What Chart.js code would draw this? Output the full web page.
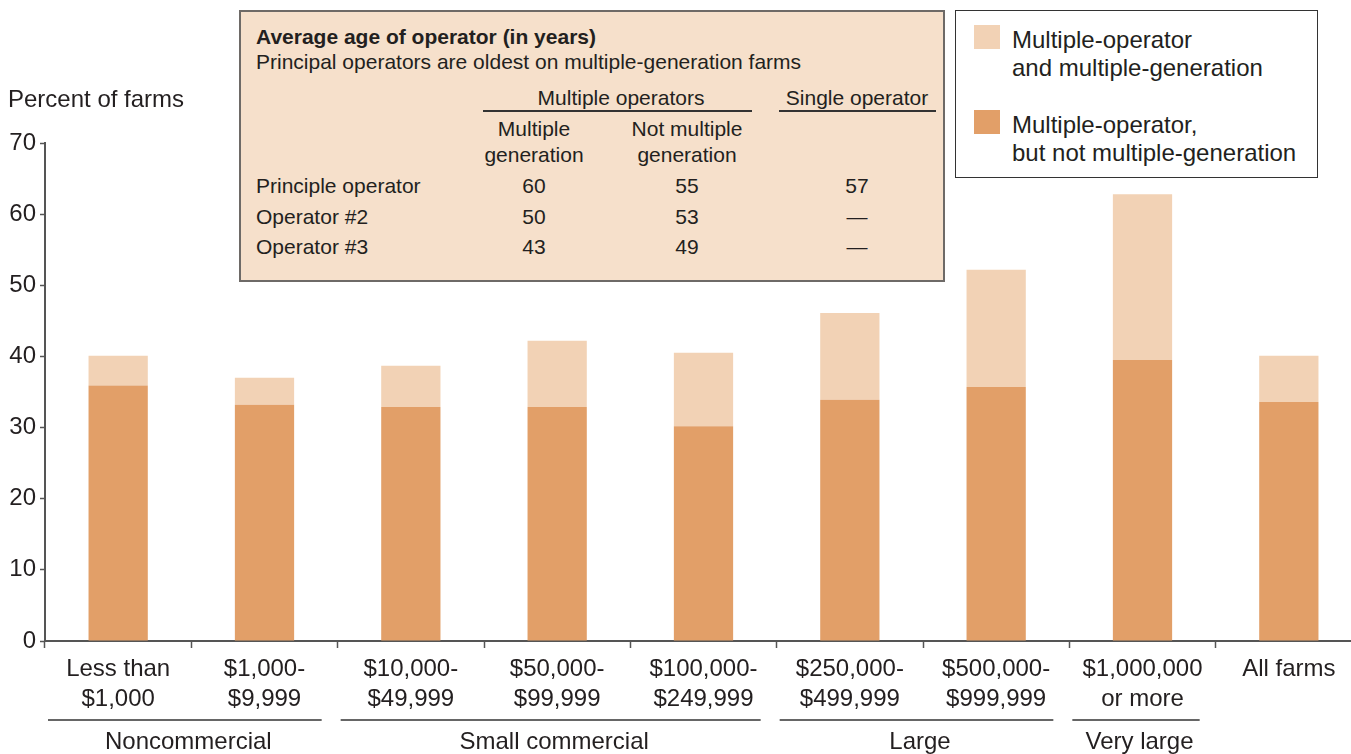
<!DOCTYPE html>
<html>
<head>
<meta charset="utf-8">
<script src="https://cdn.jsdelivr.net/npm/chart.js@4.4.1/dist/chart.umd.min.js"></script>
<style>
  html, body { margin: 0; padding: 0; background: #fff; overflow: hidden; }
  body { width: 1351px; height: 754px; position: relative; font-family: "Liberation Sans", Arial, Helvetica, sans-serif; color: #231f20; }
  #chart { position: absolute; left: 0; top: 0; }
  .t { position: absolute; white-space: nowrap; }
  .c { transform: translateX(-50%); }
  #ageBox { position: absolute; left: 239px; top: 10px; width: 702px; height: 268px; background: #f6e0cb; border: 2px solid #6e6a67; }
  #legendBox { position: absolute; left: 955px; top: 10px; width: 361px; height: 166px; background: #fff; border: 1.5px solid #333; }
  .rule { position: absolute; height: 1.5px; background: #333; }
  .swatch { position: absolute; width: 26px; height: 24px; }
</style>
</head>
<body>
<canvas id="chart" width="1362" height="754"></canvas>
<div id="ageBox"></div>
<div id="legendBox"></div>
<div id="overlay"></div>

<script>
'use strict';

// Data
const categories = [
  ['Less than', '$1,000'],
  ['$1,000-', '$9,999'],
  ['$10,000-', '$49,999'],
  ['$50,000-', '$99,999'],
  ['$100,000-', '$249,999'],
  ['$250,000-', '$499,999'],
  ['$500,000-', '$999,999'],
  ['$1,000,000', 'or more'],
  'All farms'
];
const notMultiGen = [35.9, 33.2, 32.9, 32.9, 30.2, 33.9, 35.7, 39.5, 33.6];
const multiGen = [4.2, 3.8, 5.8, 9.3, 10.3, 12.2, 16.5, 23.3, 6.5];
const yTicks = [0, 10, 20, 30, 40, 50, 60, 70];

const groupNames = ['Noncommercial', 'Small commercial', 'Large', 'Very large'];
const groupFirst = [0, 2, 5, 7];
const groupLast = [1, 4, 6, 7];

// Inset table: average age of operator
const ageRowLabels = ['Principle operator', 'Operator #2', 'Operator #3'];
const ageMultiGen = ['60', '50', '43'];
const ageNotMultiGen = ['55', '53', '49'];
const ageSingle = ['57', '\u2014', '\u2014'];

const seriesNames = ['Multiple-operator, but not multiple-generation', 'Multiple-operator and multiple-generation'];
const legendLines = [['Multiple-operator', 'and multiple-generation'], ['Multiple-operator,', 'but not multiple-generation']];

// Colours
const darkColor = '#e29f68',
  lightColor = '#f2d2b5',
  axisColor = '#555',
  textColor = '#231f20';

const FONT = '"Liberation Sans", Arial, Helvetica, sans-serif';

// Group labels under the category axis
const groupPlugin = {
  id: 'groups',
  afterDraw(chart) {
    const ctx = chart.ctx;
    const x = chart.scales.x;
    const step = x.getPixelForValue(1) - x.getPixelForValue(0);
    ctx.save();
    ctx.strokeStyle = '#333';
    ctx.lineWidth = 1.5;
    ctx.fillStyle = textColor;
    ctx.font = '24px ' + FONT;
    ctx.textAlign = 'center';
    ctx.textBaseline = 'middle';
    groupNames.forEach((name, i) => {
      const left = x.getPixelForValue(groupFirst[i]) - step / 2 + 3;
      const right = x.getPixelForValue(groupLast[i]) + step / 2 - 16;
      ctx.beginPath();
      ctx.moveTo(left, 720);
      ctx.lineTo(right, 720);
      ctx.stroke();
      ctx.fillText(name, (x.getPixelForValue(groupFirst[i]) + x.getPixelForValue(groupLast[i])) / 2 - 3, 742);
    });
    // axis title
    ctx.textAlign = 'left';
    ctx.fillText('Percent of farms', 8, 100);
    ctx.restore();
  }
};

new Chart(document.getElementById('chart'), {
  type: 'bar',
  data: {
    labels: categories,
    datasets: [
      {
        label: seriesNames[0],
        data: notMultiGen,
        backgroundColor: darkColor,
        borderWidth: 0,
        barPercentage: 1,
        categoryPercentage: 0.405
      },
      {
        label: seriesNames[1],
        data: multiGen,
        backgroundColor: lightColor,
        borderWidth: 0,
        barPercentage: 1,
        categoryPercentage: 0.405
      }
    ]
  },
  options: {
    responsive: false,
    animation: false,
    layout: { padding: { top: 143, left: 0, right: 0, bottom: 0 } },
    plugins: {
      legend: { display: false },
      tooltip: { enabled: false }
    },
    scales: {
      x: {
        stacked: true,
        afterFit(scale) { scale.height = 113; },
        border: { color: axisColor, width: 2 },
        grid: { drawOnChartArea: false, drawTicks: true, tickLength: 7, tickColor: axisColor, tickWidth: 1.5, offset: true },
        ticks: {
          color: textColor,
          padding: 7,
          maxRotation: 0,
          autoSkip: false,
          font: { family: FONT, size: 24, lineHeight: 1.22 }
        }
      },
      y: {
        stacked: true,
        min: 0,
        max: 70,
        afterFit(scale) { scale.width = 45; },
        afterBuildTicks(scale) { scale.ticks = yTicks.map(v => ({ value: v })); },
        border: { color: axisColor, width: 2 },
        grid: { drawOnChartArea: false, drawTicks: true, tickLength: 5, tickColor: axisColor, tickWidth: 1.5 },
        ticks: {
          color: textColor,
          padding: 4,
          font: { family: FONT, size: 24 }
        }
      }
    }
  },
  plugins: [groupPlugin]
});

// HTML overlays: inset table and legend
const overlay = document.getElementById('overlay');

function addText(str, x, cy, opts) {
  opts = opts || {};
  const size = opts.size || 21;
  const lh = opts.lh || 26;
  const el = document.createElement('div');
  el.className = 't' + (opts.center ? ' c' : '');
  el.textContent = str;
  el.style.left = x + 'px';
  el.style.top = (cy - lh / 2) + 'px';
  el.style.lineHeight = lh + 'px';
  el.style.fontSize = size + 'px';
  if (opts.bold) el.style.fontWeight = 'bold';
  overlay.appendChild(el);
}

function addRule(x1, x2, y) {
  const el = document.createElement('div');
  el.className = 'rule';
  el.style.left = x1 + 'px';
  el.style.top = y + 'px';
  el.style.width = (x2 - x1) + 'px';
  overlay.appendChild(el);
}

addText('Average age of operator (in years)', 256, 37, { bold: true, size: 21 });
addText('Principal operators are oldest on multiple-generation farms', 256, 62, { size: 21 });
addText('Multiple operators', 621, 98, { center: true });
addText('Single operator', 857, 98, { center: true });
addRule(483, 752, 110);
addRule(779, 936, 110);
addText('Multiple', 534, 129, { center: true });
addText('generation', 534, 155, { center: true });
addText('Not multiple', 687, 129, { center: true });
addText('generation', 687, 155, { center: true });

const colX = [534, 687, 857];
const rowY = [186, 217, 247];
ageRowLabels.forEach((label, i) => {
  addText(label, 256, rowY[i]);
  addText(ageMultiGen[i], colX[0], rowY[i], { center: true });
  addText(ageNotMultiGen[i], colX[1], rowY[i], { center: true });
  addText(ageSingle[i], colX[2], rowY[i], { center: true });
});

// legend, light series listed first
const legendColors = [lightColor, darkColor];
const legendTop = [25, 110];
legendLines.forEach((lines, i) => {
  const sw = document.createElement('div');
  sw.className = 'swatch';
  sw.style.left = '974px';
  sw.style.top = legendTop[i] + 'px';
  sw.style.background = legendColors[i];
  overlay.appendChild(sw);
  lines.forEach((line, j) => {
    addText(line, 1012, legendTop[i] + 15 + j * 27.5, { size: 24, lh: 28 });
  });
});
</script>
</body>
</html>
